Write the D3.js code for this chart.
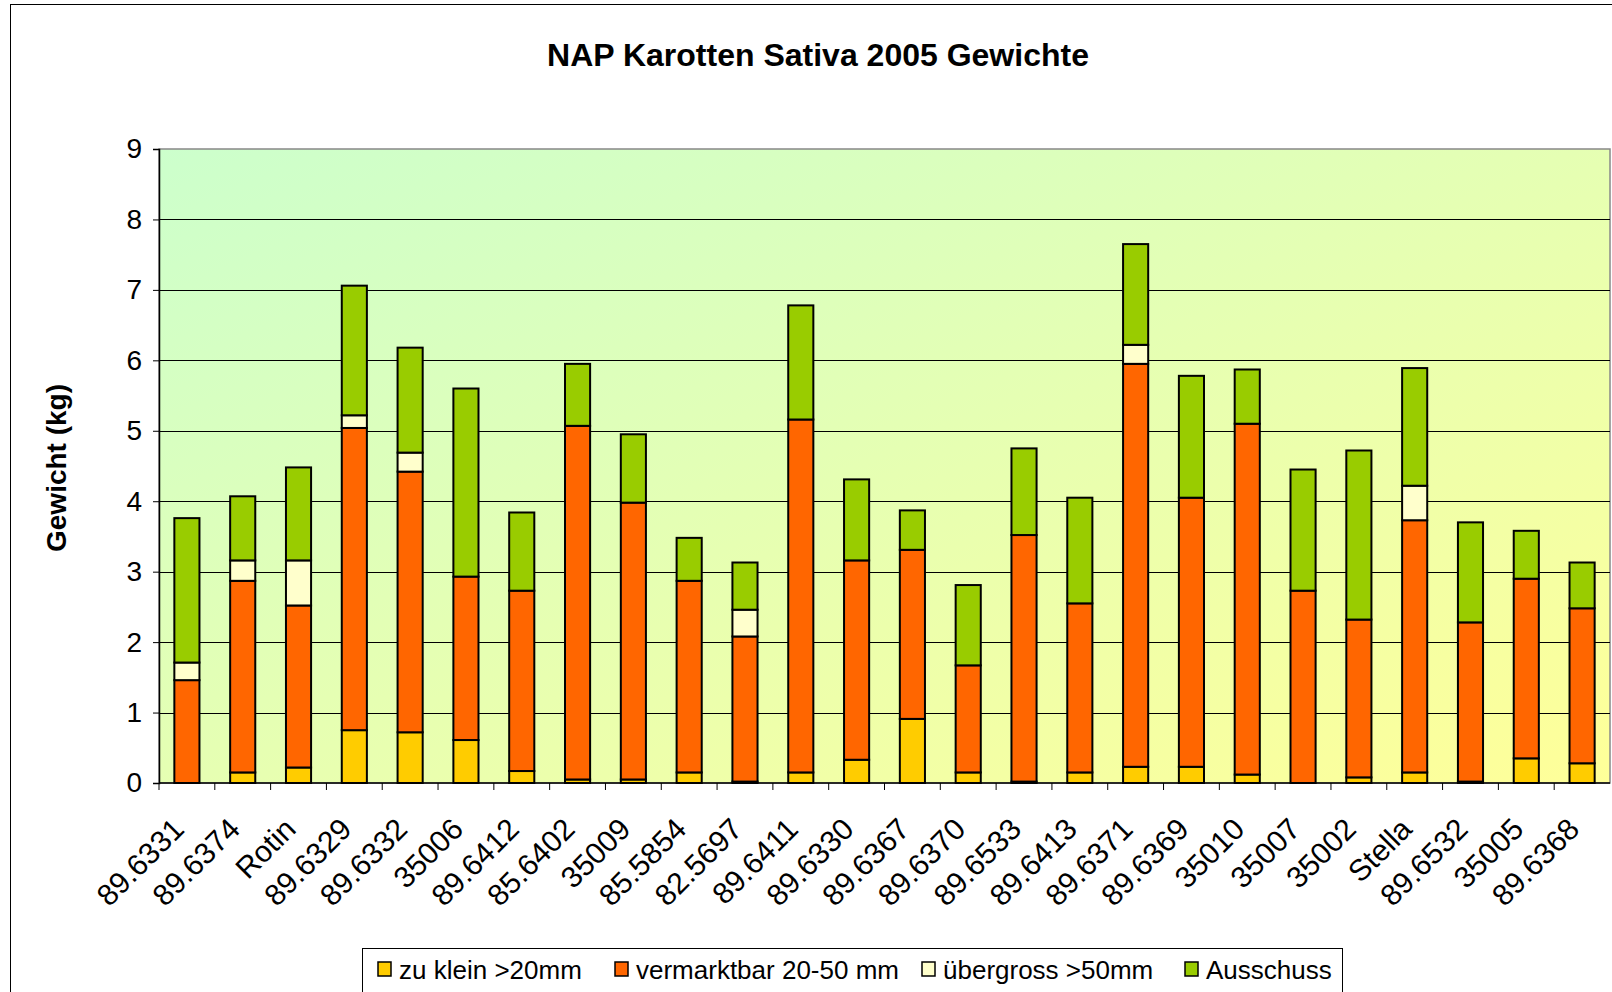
<!DOCTYPE html>
<html>
<head>
<meta charset="utf-8">
<script src="https://cdn.jsdelivr.net/npm/d3@7"></script>
<style>
  html, body { margin: 0; padding: 0; background: #fff; }
  svg { display: block; font-family: "Liberation Sans", Arial, sans-serif; }
</style>
</head>
<body>
<svg id="chart" width="1612" height="992"></svg>
<script>
// categories (sorts)
const sorts = ["89.6331", "89.6374", "Rotin", "89.6329", "89.6332", "35006", "89.6412", "85.6402",
  "35009", "85.5854", "82.5697", "89.6411", "89.6330", "89.6367", "89.6370", "89.6533", "89.6413",
  "89.6371", "89.6369", "35010", "35007", "35002", "Stella", "89.6532", "35005", "89.6368"];

// weights in kg per class
const zuKlein     = [0, 0.15, 0.22, 0.75, 0.72, 0.61, 0.17, 0.05, 0.05, 0.15, 0.02, 0.15, 0.33, 0.91, 0.15, 0.02, 0.15, 0.23, 0.23, 0.12, 0, 0.08, 0.15, 0.02, 0.35, 0.28];
const vermarktbar = [1.46, 2.72, 2.30, 4.29, 3.70, 2.32, 2.56, 5.02, 3.93, 2.72, 2.06, 5.01, 2.83, 2.40, 1.52, 3.50, 2.40, 5.72, 3.82, 4.98, 2.73, 2.24, 3.58, 2.26, 2.55, 2.20];
const uebergross  = [0.25, 0.29, 0.64, 0.18, 0.27, 0, 0, 0, 0, 0, 0.38, 0, 0, 0, 0, 0, 0, 0.27, 0, 0, 0, 0, 0.49, 0, 0, 0];
const ausschuss   = [2.05, 0.91, 1.32, 1.84, 1.49, 2.67, 1.11, 0.88, 0.97, 0.61, 0.67, 1.62, 1.15, 0.56, 1.14, 1.23, 1.50, 1.43, 1.73, 0.77, 1.72, 2.40, 1.67, 1.42, 0.68, 0.65];

const seriesNames = ["zu klein >20mm", "vermarktbar 20-50 mm", "übergross >50mm", "Ausschuss"];
const seriesColors = ["#FFCC00", "#FF6600", "#FFFFCC", "#99CC00"];
const yTicks = [0, 1, 2, 3, 4, 5, 6, 7, 8, 9];

const svg = d3.select("#chart");
const W = 1612, H = 992;
const m = { left: 159, right: 1610, top: 149, bottom: 783 };

// outer chart border
svg.append("rect").attr("x", 10.5).attr("y", 4.5).attr("width", W + 20).attr("height", H + 20)
  .attr("fill", "#fff").attr("stroke", "#000").attr("stroke-width", 1);

// background gradient of the plot area
const defs = svg.append("defs");
const grad = defs.append("linearGradient").attr("id", "bg")
  .attr("x1", 0).attr("y1", 0).attr("x2", 1).attr("y2", 1);
grad.append("stop").attr("offset", 0).attr("stop-color", "#CCFFCC");
grad.append("stop").attr("offset", 1).attr("stop-color", "#FFFF99");

const x = d3.scaleBand().domain(sorts).range([m.left, m.right]).paddingInner(0.55).paddingOuter(0.275);
const xb = d3.scaleBand().domain(sorts).range([m.left, m.right]);
const y = d3.scaleLinear().domain([0, 9]).range([m.bottom, m.top]);

svg.append("rect").attr("x", m.left).attr("y", m.top)
  .attr("width", m.right - m.left).attr("height", m.bottom - m.top)
  .attr("fill", "url(#bg)").attr("stroke", "#888").attr("stroke-width", 1.5);

// gridlines
svg.append("g").selectAll("line").data(yTicks.filter(d => d > 0 && d < 9)).join("line")
  .attr("x1", m.left).attr("x2", m.right)
  .attr("y1", d => Math.round(y(d)) + 0.5).attr("y2", d => Math.round(y(d)) + 0.5)
  .attr("stroke", "#000").attr("stroke-width", 1);

// stacked bars
const rows = sorts.map((s, i) => ({ sort: s, k0: zuKlein[i], k1: vermarktbar[i], k2: uebergross[i], k3: ausschuss[i] }));
const stack = d3.stack().keys(["k0", "k1", "k2", "k3"])(rows);

svg.append("g").selectAll("g").data(stack).join("g")
  .attr("fill", (d, i) => seriesColors[i])
  .selectAll("rect").data(d => d.filter(p => p[1] - p[0] > 0)).join("rect")
  .attr("x", d => x(d.data.sort))
  .attr("y", d => y(d[1]))
  .attr("width", x.bandwidth())
  .attr("height", d => y(d[0]) - y(d[1]))
  .attr("stroke", "#000").attr("stroke-width", 2);

// y axis
const yAxis = d3.axisLeft(y).tickValues(yTicks).tickSize(6).tickPadding(8);
const gy = svg.append("g").attr("transform", `translate(${m.left},0)`).call(yAxis);
gy.select(".domain").attr("stroke", "#000").attr("stroke-width", 1.5);
gy.selectAll(".tick line").attr("stroke", "#000");
gy.selectAll("text").attr("font-size", 28).attr("fill", "#000").attr("dx", -3)
  .attr("font-family", "Liberation Sans, Arial, sans-serif");

// x axis
const gx = svg.append("g").attr("transform", `translate(0,${m.bottom})`);
gx.append("line").attr("x1", m.left).attr("x2", m.right).attr("stroke", "#000").attr("stroke-width", 1.5);
gx.selectAll("line.tk").data(sorts).join("line").attr("class", "tk")
  .attr("x1", d => xb(d)).attr("x2", d => xb(d)).attr("y1", 0).attr("y2", 7).attr("stroke", "#000");
gx.selectAll("text").data(sorts).join("text")
  .attr("transform", d => `translate(${xb(d) + xb.bandwidth() / 2 - 1},${48}) rotate(-45)`)
  .attr("text-anchor", "end").attr("font-size", 30).attr("fill", "#000")
  .text(d => d);

// title
svg.append("text").attr("x", 818).attr("y", 66).attr("text-anchor", "middle")
  .attr("font-size", 32).attr("font-weight", "bold").text("NAP Karotten Sativa 2005 Gewichte");

// y axis title
svg.append("text").attr("transform", "translate(66,468) rotate(-90)").attr("text-anchor", "middle")
  .attr("font-size", 28).attr("font-weight", "bold").text("Gewicht (kg)");

// legend
const lg = svg.append("g");
lg.append("rect").attr("x", 362.5).attr("y", 948.5).attr("width", 980).attr("height", 60)
  .attr("fill", "#fff").attr("stroke", "#000");
const legendX = [378, 615, 922, 1185];
seriesNames.forEach((name, i) => {
  lg.append("rect").attr("x", legendX[i]).attr("y", 962).attr("width", 13).attr("height", 14)
    .attr("fill", seriesColors[i]).attr("stroke", "#000").attr("stroke-width", 1.5);
  lg.append("text").attr("x", legendX[i] + 21).attr("y", 979).attr("font-size", 26).text(name);
});
</script>
</body>
</html>
